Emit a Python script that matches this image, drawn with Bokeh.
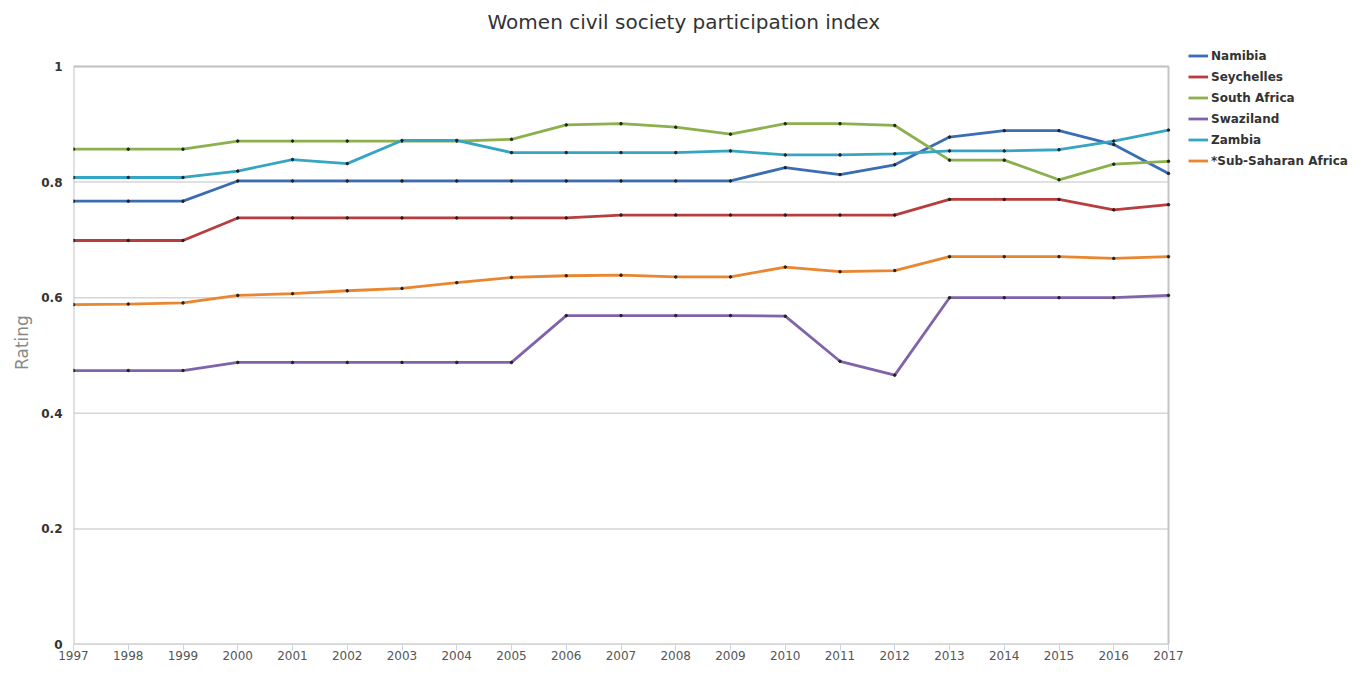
from bokeh.plotting import figure
from bokeh.models import (Range1d, FixedTicker, NumeralTickFormatter, Legend, LegendItem)
from bokeh.embed import file_html
from bokeh.resources import INLINE

years = list(range(1997, 2018))
namibia = [0.767, 0.767, 0.767, 0.802, 0.802, 0.802, 0.802, 0.802, 0.802, 0.802, 0.802,
           0.802, 0.802, 0.825, 0.813, 0.830, 0.878, 0.889, 0.889, 0.865, 0.815]
seychelles = [0.699, 0.699, 0.699, 0.738, 0.738, 0.738, 0.738, 0.738, 0.738, 0.738, 0.743,
              0.743, 0.743, 0.743, 0.743, 0.743, 0.770, 0.770, 0.770, 0.752, 0.761]
south_africa = [0.857, 0.857, 0.857, 0.871, 0.871, 0.871, 0.871, 0.871, 0.874, 0.899, 0.901,
                0.895, 0.883, 0.901, 0.901, 0.898, 0.838, 0.838, 0.804, 0.831, 0.836]
swaziland = [0.474, 0.474, 0.474, 0.488, 0.488, 0.488, 0.488, 0.488, 0.488, 0.569, 0.569,
             0.569, 0.569, 0.568, 0.490, 0.466, 0.600, 0.600, 0.600, 0.600, 0.604]
zambia = [0.808, 0.808, 0.808, 0.819, 0.839, 0.832, 0.872, 0.872, 0.851, 0.851, 0.851,
          0.851, 0.854, 0.847, 0.847, 0.849, 0.854, 0.854, 0.856, 0.871, 0.890]
sub_saharan = [0.588, 0.589, 0.591, 0.604, 0.607, 0.612, 0.616, 0.626, 0.635, 0.638, 0.639,
               0.636, 0.636, 0.653, 0.645, 0.647, 0.671, 0.671, 0.671, 0.668, 0.671]

series_names = ["Namibia", "Seychelles", "South Africa", "Swaziland", "Zambia", "*Sub-Saharan Africa"]
series_values = [namibia, seychelles, south_africa, swaziland, zambia, sub_saharan]
series_colors = ["#3a6db3", "#b83d3c", "#8cb04b", "#8063aa", "#36a5c3", "#ea8530"]
y_ticks = [0, 0.2, 0.4, 0.6, 0.8, 1]

FONT = "DejaVu Sans"

# layout (pixels): the frame covers the legend area too; the chart box is drawn as a glyph
W, H = 1350, 663
BORDER_L, BORDER_T, BORDER_B = 73, 40, 19
BOX_RIGHT_PX, BOX_TOP_PX = 1168, 66
frame_w = W - BORDER_L
frame_h = H - BORDER_T - BORDER_B
px_per_year = (BOX_RIGHT_PX - BORDER_L) / (years[-1] - years[0])
px_per_unit = (H - BORDER_B - BOX_TOP_PX) / (y_ticks[-1] - y_ticks[0])
x_end = years[0] + frame_w / px_per_year
y_end = y_ticks[0] + frame_h / px_per_unit

p = figure(width=W, height=H, output_backend="svg", toolbar_location=None,
           x_range=Range1d(years[0], x_end), y_range=Range1d(y_ticks[0], y_end),
           min_border_left=BORDER_L, min_border_right=0, min_border_top=BORDER_T,
           min_border_bottom=BORDER_B)

p.title.text = "Women civil society participation index"
p.title.text_font = FONT
p.title.text_font_size = "20px"
p.title.text_font_style = "normal"
p.title.text_color = "#333333"
p.title.align = "left"
p.title.offset = 414
p.title.standoff = 14

p.outline_line_color = None
p.background_fill_color = "white"
p.border_fill_color = "white"
p.grid.grid_line_color = None

# horizontal gridlines and chart box
p.segment(x0=years[0], x1=years[-1], y0=y_ticks, y1=y_ticks,
          line_color="#d6d6d6", line_width=1.5)
p.quad(left=years[0], right=years[-1], bottom=y_ticks[0], top=y_ticks[-1],
       fill_color=None, line_color="#c4c4c4", line_width=2)

p.yaxis.ticker = FixedTicker(ticks=y_ticks)
p.yaxis.bounds = (y_ticks[0], y_ticks[-1])
p.yaxis.formatter = NumeralTickFormatter(format="0.[0]")
p.yaxis.axis_line_color = None
p.yaxis.major_tick_line_color = None
p.yaxis.major_tick_out = 0
p.yaxis.major_tick_in = 0
p.yaxis.minor_tick_line_color = None
p.yaxis.major_label_text_font = FONT
p.yaxis.major_label_text_font_size = "12px"
p.yaxis.major_label_text_font_style = "bold"
p.yaxis.major_label_text_color = "#333333"
p.yaxis.major_label_standoff = 11
p.yaxis.axis_label = "Rating"
p.yaxis.axis_label_text_font = FONT
p.yaxis.axis_label_text_font_size = "17px"
p.yaxis.axis_label_text_font_style = "normal"
p.yaxis.axis_label_text_color = "#888888"
p.yaxis.axis_label_standoff = 6

p.xaxis.ticker = FixedTicker(ticks=years)
p.xaxis.bounds = (years[0], years[-1])
p.xaxis.axis_line_color = None
p.xaxis.major_tick_line_color = "#c6d6e8"
p.xaxis.major_tick_in = 0
p.xaxis.major_tick_out = 6
p.xaxis.minor_tick_line_color = None
p.xaxis.major_label_text_font = FONT
p.xaxis.major_label_text_font_size = "12px"
p.xaxis.major_label_text_color = "#555555"
p.xaxis.major_label_standoff = 0

items = []
for name, vals, col in zip(series_names, series_values, series_colors):
    r = p.line(years, vals, line_color=col, line_width=2.8)
    p.scatter(years, vals, size=2.5, color="#222222")
    items.append(LegendItem(label=name, renderers=[r]))

legend = Legend(items=items, location=(1115, 473))
legend.border_line_color = None
legend.background_fill_alpha = 0
legend.padding = 0
legend.margin = 0
legend.spacing = 0
legend.glyph_width = 20
legend.glyph_height = 21
legend.label_height = 21
legend.label_standoff = 3
legend.label_text_font = FONT
legend.label_text_font_size = "12px"
legend.label_text_font_style = "bold"
legend.label_text_color = "#333333"
p.add_layout(legend, "center")

open("out.html", "w").write(file_html(p, INLINE))
